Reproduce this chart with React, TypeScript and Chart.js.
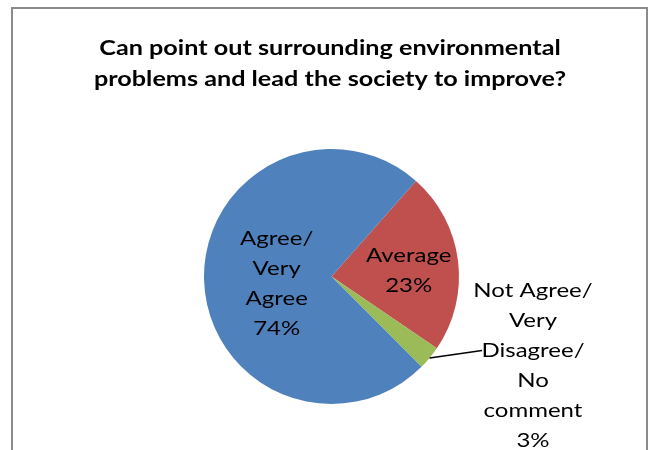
import React, { useEffect, useRef } from "react";
import { Chart, registerables } from "chart.js";

Chart.register(...registerables);

const categories = ["Average", "Not Agree/ Very Disagree/ No comment", "Agree/ Very Agree"];
const values = [23, 3, 74];
const colors = ["#C0504D", "#9BBB59", "#4F81BD"];
const labelLines = [
  ["Average", "23%"],
  ["Not Agree/", "Very", "Disagree/", "No", "comment", "3%"],
  ["Agree/", "Very", "Agree", "74%"],
];
const titleLines = [
  "Can point out surrounding environmental",
  "problems and lead the society to improve?",
];

const FONT = "Lato, 'Open Sans', sans-serif";
const STRETCH = 1.2;

function drawStretched(ctx: CanvasRenderingContext2D, text: string, x: number, y: number) {
  ctx.save();
  ctx.translate(x, y);
  ctx.scale(STRETCH, 1);
  ctx.fillText(text, 0, 0);
  ctx.restore();
}

const overlay = {
  id: "overlay",
  beforeDraw(chart: any) {
    const ctx = chart.ctx as CanvasRenderingContext2D;
    ctx.save();
    ctx.fillStyle = "#ffffff";
    ctx.fillRect(0, 0, chart.width, chart.height);
    ctx.strokeStyle = "#8a8a8a";
    ctx.lineWidth = 2;
    ctx.beginPath();
    ctx.moveTo(12, chart.height + 5);
    ctx.lineTo(12, 8);
    ctx.lineTo(647, 8);
    ctx.lineTo(647, chart.height + 5);
    ctx.stroke();
    ctx.restore();
  },
  afterDatasetsDraw(chart: any) {
    const ctx = chart.ctx as CanvasRenderingContext2D;
    const meta = chart.getDatasetMeta(0);
    ctx.save();
    // title
    ctx.fillStyle = "#000";
    ctx.textAlign = "center";
    ctx.textBaseline = "middle";
    ctx.font = `bold 21px ${FONT}`;
    titleLines.forEach((t, i) => drawStretched(ctx, t, 330, 48 + i * 31.5));

    ctx.font = `20px ${FONT}`;
    const lh = 30;
    meta.data.forEach((arc: any, i: number) => {
      const { x, y, startAngle, endAngle, outerRadius } = arc.getProps(
        ["x", "y", "startAngle", "endAngle", "outerRadius"],
        true
      );
      const mid = (startAngle + endAngle) / 2;
      const lines = labelLines[i];
      let cx: number, cy: number;
      if (i === 1) {
        const ex = x + Math.cos(mid) * outerRadius;
        const ey = y + Math.sin(mid) * outerRadius;
        cx = x + outerRadius + 74;
        cy = y + 89;
        ctx.strokeStyle = "#000";
        ctx.lineWidth = 1.5;
        ctx.beginPath();
        ctx.moveTo(ex, ey);
        ctx.lineTo(cx - 51, cy - 15);
        ctx.stroke();
      } else {
        const f = i === 0 ? 0.61 : 0.43;
        cx = x + Math.cos(mid) * outerRadius * f;
        cy = y + Math.sin(mid) * outerRadius * f + (i === 2 ? 5 : 4);
      }
      const top = cy - ((lines.length - 1) * lh) / 2;
      ctx.fillStyle = "#000";
      lines.forEach((l, k) => drawStretched(ctx, l, cx, top + k * lh));
    });
    ctx.restore();
  },
};

export default function App() {
  const ref = useRef<HTMLCanvasElement>(null);
  useEffect(() => {
    if (!ref.current) return;
    const chart = new Chart(ref.current, {
      type: "pie",
      data: {
        labels: categories,
        datasets: [
          {
            data: values,
            backgroundColor: colors,
            borderWidth: 0,
          },
        ],
      },
      options: {
        responsive: false,
        animation: false,
        rotation: 41.5,
        layout: { padding: { left: 204, right: 192, top: 149, bottom: 46 } },
        plugins: {
          legend: { display: false },
          tooltip: { enabled: false },
          title: { display: false },
        },
      },
      plugins: [overlay],
    });
    return () => chart.destroy();
  }, []);
  return (
    <div style={{ position: "fixed", left: 0, top: 0, width: 651, height: 450, background: "#fff" }}>
      <canvas ref={ref} width={651} height={450} style={{ width: 651, height: 450, display: "block" }} />
    </div>
  );
}
